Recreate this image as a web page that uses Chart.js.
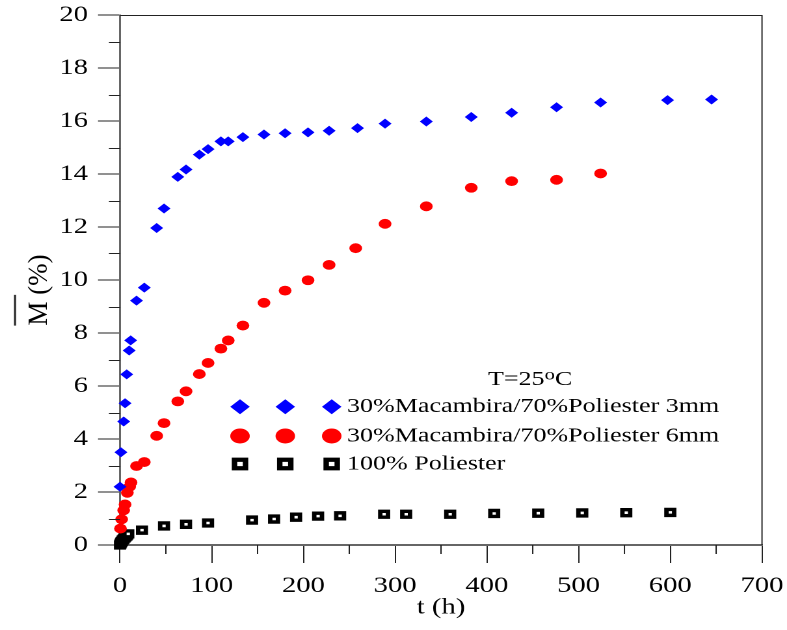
<!DOCTYPE html>
<html>
<head>
<meta charset="utf-8">
<script src="https://cdn.jsdelivr.net/npm/chart.js@4.4.0/dist/chart.umd.min.js"></script>
<style>
  html, body { margin: 0; padding: 0; background: #fff; }
</style>
</head>
<body>
<!-- drawn 605px wide and stretched to 787px, the reference is wide like that -->
<canvas id="chart" width="605" height="630" style="width:787px;height:630px"></canvas>
<script>
const STRETCH = 787 / 605;
const FONT = '"Liberation Serif", "Times New Roman", serif';

// data: t (h) and M (%)
const blueT = [0, 1, 4, 5.5, 7.3, 10, 11.6, 18, 26.5, 40, 48, 63, 72, 86.5, 96, 110, 118, 134, 157, 180, 205, 228, 259, 289, 334, 383, 427, 476, 524, 597, 645];
const blueM = [2.2, 3.5, 4.66, 5.35, 6.44, 7.34, 7.72, 9.22, 9.71, 11.96, 12.7, 13.89, 14.17, 14.73, 14.94, 15.23, 15.23, 15.39, 15.49, 15.54, 15.57, 15.63, 15.73, 15.9, 15.98, 16.15, 16.31, 16.52, 16.7, 16.79, 16.81];

const redT = [0.5, 1.8, 4, 5.5, 8, 10.5, 12, 18, 26.5, 40, 48, 63, 72, 86.5, 96, 110, 118, 134, 157, 180, 205, 228, 257, 289, 334, 383, 427, 476, 524];
const redM = [0.62, 0.97, 1.31, 1.53, 1.97, 2.2, 2.36, 2.98, 3.13, 4.12, 4.6, 5.42, 5.8, 6.45, 6.87, 7.41, 7.72, 8.28, 9.14, 9.6, 9.99, 10.57, 11.2, 12.12, 12.78, 13.48, 13.73, 13.78, 14.02];

const blackT = [0, 0.5, 1, 1.5, 2, 3, 4, 5, 6, 7, 8, 9, 24, 48, 72, 96, 144, 168, 192, 216, 240, 288, 312, 360, 408, 456, 504, 552, 600];
const blackM = [0, 0.04, 0.08, 0.11, 0.14, 0.19, 0.23, 0.27, 0.31, 0.34, 0.38, 0.42, 0.56, 0.72, 0.78, 0.83, 0.94, 0.98, 1.05, 1.09, 1.10, 1.16, 1.16, 1.16, 1.19, 1.20, 1.21, 1.22, 1.23];

const seriesLabels = ['30%Macambira/70%Poliester 3mm', '30%Macambira/70%Poliester 6mm', '100% Poliester'];
const xMinorTicks = [50, 150, 250, 350, 450, 550, 650];
const yMinorTicks = [1, 3, 5, 7, 9, 11, 13, 15, 17, 19];

const toPoints = (ts, ms) => ts.map((t, i) => ({ x: t, y: ms[i] }));

const styles = [
  { pointStyle: 'rectRot', radius: 5, color: '#0000ff', fill: '#0000ff', borderWidth: 0, legendRadius: 7.5, legendBorder: 0 },
  { pointStyle: 'circle', radius: 4.9, color: '#ff0000', fill: '#ff0000', borderWidth: 0, legendRadius: 7.5, legendBorder: 0 },
  { pointStyle: 'rect', radius: 4.2, color: '#000000', fill: '#ffffff', borderWidth: 3.4, legendRadius: 6, legendBorder: 4.2 }
];

const datasets = [toPoints(blueT, blueM), toPoints(redT, redM), toPoints(blackT, blackM)].map((pts, i) => ({
  label: seriesLabels[i],
  data: pts,
  showLine: false,
  clip: false,
  pointStyle: styles[i].pointStyle,
  pointRadius: styles[i].radius,
  pointBackgroundColor: styles[i].fill,
  pointBorderColor: styles[i].color,
  pointBorderWidth: styles[i].borderWidth
}));

// minor ticks, frame, y title with overline and the legend box
const decorPlugin = {
  id: 'decor',
  afterDraw(chart) {
    const { ctx, chartArea: a, scales: { x, y } } = chart;
    ctx.save();

    ctx.strokeStyle = '#222';
    ctx.lineWidth = 1;
    ctx.beginPath();
    yMinorTicks.forEach(v => {
      const py = Math.round(y.getPixelForValue(v)) + 0.5;
      ctx.moveTo(a.left - 8.5, py);
      ctx.lineTo(a.left, py);
    });
    xMinorTicks.forEach(t => {
      const px = x.getPixelForValue(t);
      ctx.moveTo(px, a.bottom);
      ctx.lineTo(px, a.bottom + 9);
    });
    ctx.moveTo(a.left, a.top + 0.5);
    ctx.lineTo(a.right, a.top + 0.5);
    ctx.lineTo(a.right, a.bottom);
    ctx.stroke();

    // y title, drawn un-stretched
    ctx.save();
    ctx.translate(47 / STRETCH, 290);
    ctx.scale(1 / STRETCH, 1);
    ctx.rotate(-Math.PI / 2);
    ctx.font = '27px ' + FONT;
    ctx.fillStyle = '#000';
    ctx.textAlign = 'left';
    ctx.textBaseline = 'alphabetic';
    const title = 'M (%)';
    const w = ctx.measureText(title).width;
    ctx.fillText(title, -w / 2, 0);
    const wM = ctx.measureText('M ').width;
    ctx.lineWidth = 2;
    ctx.beginPath();
    ctx.moveTo(-w / 2, -32);
    ctx.lineTo(-w / 2 + wM, -32);
    ctx.stroke();
    ctx.restore();

    // legend
    const markX = [184.5, 219.3, 255];
    const rowY = [406.7, 436, 464];
    styles.forEach((s, i) => {
      ctx.fillStyle = s.fill;
      ctx.strokeStyle = s.color;
      ctx.lineWidth = s.legendBorder;
      markX.forEach(mx => {
        Chart.helpers.drawPoint(ctx, { pointStyle: s.pointStyle, radius: s.legendRadius, rotation: 0, borderWidth: s.legendBorder }, mx, rowY[i]);
      });
    });
    ctx.fillStyle = '#000';
    ctx.font = '20px ' + FONT;
    ctx.textAlign = 'left';
    ctx.textBaseline = 'middle';
    seriesLabels.forEach((lab, i) => ctx.fillText(lab, 266.8, rowY[i]));

    ctx.textBaseline = 'alphabetic';
    let tx = 375.1;
    ctx.fillText('T=25', tx, 385);
    tx += ctx.measureText('T=25').width;
    ctx.font = '16px ' + FONT;
    ctx.fillText('o', tx, 379.5);
    tx += ctx.measureText('o').width;
    ctx.font = '20px ' + FONT;
    ctx.fillText('C', tx, 385);

    ctx.restore();
  }
};

const tickFont = { family: FONT, size: 22 };

new Chart(document.getElementById('chart'), {
  type: 'scatter',
  data: { datasets },
  plugins: [decorPlugin],
  options: {
    responsive: false,
    devicePixelRatio: 2,
    animation: false,
    layout: { padding: { left: 0, right: 605 - 762 / STRETCH, top: 15, bottom: 0 } },
    plugins: { legend: { display: false }, tooltip: { enabled: false } },
    scales: {
      x: {
        type: 'linear',
        min: 0,
        max: 700,
        afterFit: s => { s.height = 630 - 545; s.paddingLeft = 0; s.paddingRight = 0; },
        ticks: { stepSize: 100, color: '#000', font: tickFont, padding: 10, maxRotation: 0 },
        grid: { drawOnChartArea: false, drawTicks: true, tickLength: 18, tickColor: '#222', tickWidth: 1 },
        border: { color: '#666', width: 2 },
        title: { display: true, text: 't (h)', color: '#000', font: { family: FONT, size: 22 }, padding: { top: 0, bottom: 9 } }
      },
      y: {
        type: 'linear',
        min: 0,
        max: 20,
        afterFit: s => { s.width = 120 / STRETCH; s.paddingTop = 0; s.paddingBottom = 0; },
        ticks: { stepSize: 2, color: '#000', font: tickFont, padding: 7.7 },
        grid: { drawOnChartArea: false, drawTicks: true, tickLength: 22 / STRETCH, tickColor: '#222', tickWidth: 1 },
        border: { color: '#666', width: 1.5 }
      }
    }
  }
});
</script>
</body>
</html>
